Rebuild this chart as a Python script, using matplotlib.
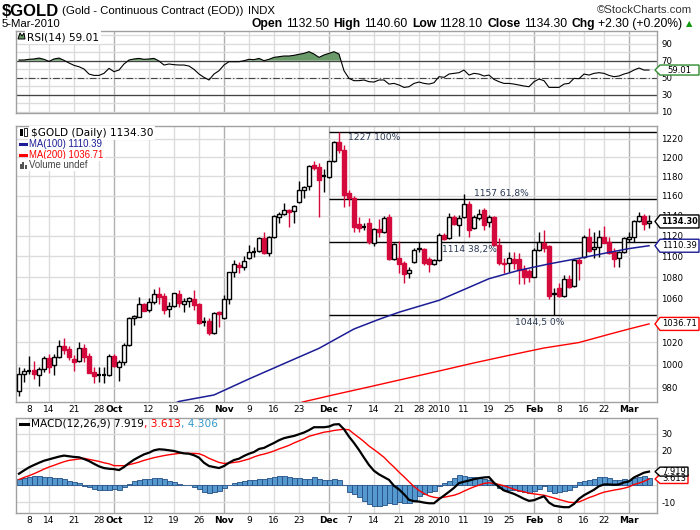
import matplotlib
matplotlib.use("Agg")
import matplotlib.pyplot as plt
from matplotlib.patches import Rectangle, Polygon
from matplotlib.lines import Line2D
from matplotlib import font_manager as fm
import numpy as np
import pandas as pd


# ---- Data ----
holidays = ["2009-09-07", "2009-12-25", "2010-01-01", "2010-01-18", "2010-02-15"]
dates = pd.bdate_range("2009-09-03", "2010-03-05", freq="C", holidays=holidays)

opens = [
    977.7, 991.8, 995.6, 995.4, 991.5, 996.2, 1006.4, 999.7, 1007.3, 1016.8,
    1014.1, 1005.3, 1003.2, 1014.7, 1008.2, 994.1, 991.5, 991.8, 991.3, 1007.9,
    998.5, 1002.9, 1017.4, 1041.8, 1043.3, 1055.0, 1049.5, 1056.9, 1064.3, 1062.7,
    1050.1, 1052.9, 1064.3, 1055.3, 1058.1, 1059.7, 1055.0, 1038.8, 1039.6, 1028.2,
    1047.6, 1041.8, 1059.4, 1084.7, 1091.8, 1090.2, 1098.2, 1104.9, 1105.6, 1118.3,
    1103.0, 1118.6, 1139.1, 1141.8, 1145.9, 1144.5, 1153.6, 1166.3, 1169.7, 1192.3,
    1189.8, 1181.4, 1179.3, 1195.8, 1215.9, 1208.2, 1162.8, 1157.7, 1131.8, 1129.5,
    1132.5, 1113.2, 1126.6, 1124.2, 1139.2, 1097.3, 1098.2, 1093.5, 1083.8, 1095.0,
    1108.5, 1107.3, 1097.5, 1092.8, 1096.6, 1120.9, 1117.6, 1139.2, 1130.8, 1138.6,
    1151.9, 1127.6, 1137.5, 1145.9, 1134.1, 1139.2, 1111.1, 1094.1, 1093.5, 1098.0,
    1097.5, 1087.6, 1086.0, 1080.6, 1106.3, 1113.4, 1110.0, 1065.0, 1070.2, 1062.4,
    1078.6, 1071.7, 1096.6, 1099.1, 1119.3, 1107.3, 1109.5, 1118.6, 1114.1, 1104.6,
    1098.2, 1104.6, 1116.7, 1118.6, 1134.3, 1139.8, 1132.5,
]
highs = [
    998.5, 997.6, 1007.9, 1003.5, 998.5, 1007.9, 1009.4, 1009.4, 1021.9, 1024.3,
    1017.1, 1008.5, 1020.1, 1018.9, 1010.3, 998.5, 998.5, 998.5, 1009.7, 1009.7,
    1004.4, 1019.2, 1042.8, 1044.9, 1061.8, 1056.2, 1060.3, 1068.8, 1070.6, 1064.9,
    1057.1, 1065.5, 1068.1, 1060.3, 1061.8, 1068.1, 1055.6, 1043.3, 1041.8, 1048.0,
    1048.6, 1063.4, 1085.4, 1096.6, 1095.0, 1100.5, 1111.1, 1109.5, 1118.6, 1123.9,
    1119.9, 1140.8, 1144.2, 1153.3, 1146.6, 1150.6, 1174.9, 1169.7, 1192.3, 1195.8,
    1194.0, 1188.0, 1196.5, 1217.1, 1227.0, 1213.5, 1166.0, 1160.0, 1139.2, 1133.1,
    1137.5, 1127.6, 1136.6, 1139.8, 1141.8, 1112.6, 1115.0, 1095.9, 1089.5, 1108.0,
    1114.1, 1108.0, 1099.1, 1097.3, 1122.6, 1122.6, 1142.5, 1140.8, 1140.8, 1162.1,
    1155.3, 1140.8, 1146.6, 1147.7, 1140.8, 1139.8, 1117.6, 1098.2, 1104.6, 1103.9,
    1102.9, 1091.8, 1088.0, 1108.0, 1124.2, 1125.9, 1111.1, 1069.6, 1074.3, 1082.2,
    1082.2, 1097.3, 1098.2, 1120.9, 1127.6, 1124.2, 1125.9, 1129.8, 1119.3, 1108.0,
    1105.6, 1119.3, 1124.2, 1135.7, 1144.2, 1141.5, 1140.6,
]
lows = [
    973.4, 985.4, 992.1, 987.5, 981.9, 994.1, 993.3, 991.3, 1006.4, 1009.7,
    1004.4, 995.0, 1002.4, 1002.9, 992.7, 984.6, 985.4, 984.6, 990.7, 998.0,
    986.3, 1000.0, 1016.6, 1035.7, 1042.8, 1048.3, 1047.4, 1055.0, 1055.0, 1045.8,
    1043.3, 1052.0, 1052.5, 1048.0, 1052.5, 1049.5, 1036.6, 1034.8, 1026.7, 1027.6,
    1034.2, 1041.2, 1054.7, 1080.6, 1083.8, 1087.0, 1097.2, 1099.8, 1104.6, 1102.4,
    1100.5, 1118.3, 1132.6, 1140.8, 1129.3, 1132.6, 1152.6, 1157.7, 1166.3, 1187.0,
    1138.4, 1164.0, 1178.3, 1195.1, 1204.8, 1148.5, 1150.0, 1124.0, 1124.2, 1125.9,
    1111.9, 1110.0, 1119.3, 1122.6, 1096.6, 1096.6, 1083.8, 1074.3, 1079.1, 1094.1,
    1104.6, 1091.8, 1085.4, 1091.8, 1095.9, 1116.0, 1116.7, 1130.8, 1119.9, 1137.5,
    1119.0, 1126.6, 1135.8, 1125.9, 1129.1, 1110.0, 1091.8, 1083.8, 1085.4, 1088.0,
    1073.6, 1073.6, 1076.0, 1080.0, 1105.6, 1104.6, 1059.4, 1044.5, 1061.8, 1061.8,
    1069.6, 1071.0, 1077.5, 1098.2, 1104.6, 1098.2, 1099.1, 1112.6, 1102.3, 1089.5,
    1089.5, 1103.6, 1114.1, 1114.1, 1133.3, 1125.9, 1128.1,
]
closes = [
    991.8, 994.5, 995.0, 992.1, 996.2, 1005.9, 998.0, 1007.0, 1016.6, 1013.3,
    1007.0, 1002.9, 1014.7, 1007.3, 993.3, 990.7, 991.0, 991.2, 1007.9, 999.1,
    1002.9, 1017.4, 1041.8, 1043.9, 1055.0, 1048.8, 1056.9, 1064.0, 1061.8, 1049.5,
    1052.9, 1064.9, 1055.6, 1058.1, 1060.3, 1054.1, 1037.8, 1038.5, 1028.2, 1047.0,
    1045.5, 1059.4, 1084.7, 1092.5, 1090.2, 1095.7, 1104.0, 1104.3, 1117.6, 1103.6,
    1119.3, 1139.8, 1141.8, 1145.6, 1144.2, 1150.3, 1166.0, 1169.1, 1191.2, 1188.8,
    1176.6, 1180.7, 1195.8, 1216.4, 1207.4, 1161.1, 1157.7, 1128.6, 1127.6, 1128.8,
    1114.1, 1126.6, 1124.2, 1137.5, 1097.3, 1111.9, 1092.8, 1083.2, 1087.0, 1106.3,
    1107.0, 1093.5, 1092.5, 1096.6, 1120.9, 1116.7, 1139.2, 1131.5, 1137.5, 1151.9,
    1125.9, 1138.6, 1141.8, 1130.8, 1139.2, 1111.1, 1093.5, 1092.8, 1098.2, 1094.0,
    1087.0, 1080.6, 1080.0, 1106.3, 1114.1, 1108.0, 1062.4, 1064.0, 1062.4, 1078.0,
    1071.0, 1096.6, 1093.5, 1119.3, 1105.6, 1109.5, 1118.6, 1113.2, 1102.9, 1097.3,
    1104.6, 1117.6, 1118.6, 1134.3, 1139.8, 1132.0, 1134.3,
]

# moving averages, read at a few bars (bar number counted from 3 Sep 2009)
ma100_bar = [31, 32, 39, 46, 53, 60, 67, 72, 76, 80, 84, 90, 94, 100, 106, 112, 118, 122, 126]
ma100_val = [966.5, 968.5, 974.0, 987.8, 1001.2, 1014.7, 1032.1, 1040.9, 1047.4, 1052.9,
             1058.4, 1070.5, 1078.7, 1086.7, 1092.8, 1098.2, 1103.9, 1107.6, 1110.39]
ma200_bar = [56, 57, 60, 63, 70, 77, 84, 91, 98, 105, 112, 118, 122, 126]
ma200_val = [967.0, 968.3, 971.2, 974.2, 980.9, 987.8, 994.7, 1001.8, 1008.5, 1015.0,
             1019.9, 1027.3, 1032.1, 1036.71]

rsi = [
    70.8, 70.8, 71.6, 72.0, 73.1, 71.6, 69.2, 72.0, 73.1, 70.4,
    67.3, 64.5, 62.9, 60.2, 54.3, 52.7, 52.7, 55.1, 61.0, 57.1,
    59.0, 66.1, 70.8, 72.0, 72.7, 71.6, 72.0, 72.7, 69.6, 64.9,
    66.1, 65.3, 64.9, 64.9, 63.7, 59.8, 54.3, 50.4, 47.3, 54.3,
    58.2, 64.9, 68.8, 68.8, 68.8, 70.0, 71.6, 71.2, 72.7, 70.0,
    71.6, 73.9, 74.7, 75.5, 75.5, 76.3, 77.5, 78.6, 80.6, 77.8,
    73.9, 76.7, 78.6, 80.6, 77.8, 58.2, 49.2, 46.5, 46.5, 47.3,
    45.3, 44.9, 47.3, 47.3, 42.5, 43.3, 41.4, 38.6, 39.4, 43.3,
    44.9, 43.3, 42.5, 44.1, 51.2, 50.4, 54.3, 55.1, 55.9, 59.0,
    53.1, 55.1, 54.3, 52.0, 53.1, 48.0, 45.3, 43.3, 43.3, 42.5,
    41.4, 40.2, 39.4, 45.3, 48.4, 46.5, 38.6, 38.6, 38.6, 42.5,
    43.3, 49.2, 48.8, 54.3, 53.1, 55.1, 55.9, 55.1, 52.7, 51.2,
    52.0, 54.3, 55.9, 59.0, 61.4, 59.0, 59.01,
]

macd = [
    6.7, 8.6, 10.4, 11.8, 13.1, 14.3, 15.1, 15.9, 16.7, 17.3,
    16.9, 16.5, 16.3, 15.3, 14.1, 12.5, 11.0, 10.0, 9.6, 9.4,
    8.8, 10.6, 12.9, 14.9, 16.5, 18.0, 19.0, 20.4, 21.0, 20.8,
    20.4, 20.0, 19.2, 18.6, 18.4, 17.5, 16.1, 13.1, 11.2, 10.6,
    10.0, 11.2, 13.1, 14.7, 15.5, 17.1, 18.4, 19.4, 21.2, 21.8,
    23.3, 24.7, 26.3, 27.5, 28.2, 28.8, 29.8, 30.8, 32.2, 33.9,
    33.9, 33.9, 34.3, 35.5, 35.7, 32.7, 28.4, 24.7, 20.6, 16.1,
    11.8, 8.4, 6.3, 4.7, 3.1, -0.4, -2.5, -5.3, -8.6, -9.4,
    -9.6, -10.2, -10.6, -10.6, -8.2, -6.1, -3.9, -1.6, 1.2, 2.0,
    2.7, 3.5, 4.1, 4.5, 4.7, 1.4, -1.0, -3.1, -4.1, -5.1,
    -6.5, -8.0, -9.2, -8.8, -7.6, -6.5, -10.2, -12.0, -12.5, -12.9,
    -12.9, -11.0, -8.0, -5.9, -4.3, -2.7, -0.6, 0.4, 0.4, 0.2,
    0.4, 1.6, 2.2, 4.5, 5.9, 7.3, 7.919,
]
signal = [
    3.3, 4.5, 5.5, 6.7, 8.0, 9.4, 10.6, 11.6, 12.7, 13.7,
    14.5, 14.9, 15.3, 15.7, 15.1, 14.5, 13.9, 13.1, 12.5, 11.4,
    11.4, 11.4, 12.0, 12.7, 13.5, 14.5, 15.3, 16.1, 16.7, 17.3,
    17.8, 18.2, 18.6, 18.6, 18.6, 18.6, 18.4, 17.3, 15.7, 14.5,
    13.3, 12.7, 12.9, 13.3, 13.7, 14.5, 15.3, 16.5, 17.5, 18.2,
    19.0, 20.0, 21.2, 22.2, 23.3, 24.7, 25.9, 27.1, 28.6, 29.4,
    30.2, 31.0, 31.4, 32.0, 32.4, 32.7, 32.4, 30.0, 27.8, 25.5,
    22.9, 20.8, 18.6, 16.3, 13.3, 10.6, 7.6, 4.9, 2.0, -0.8,
    -3.1, -4.9, -6.3, -7.1, -7.5, -7.1, -6.5, -5.9, -4.9, -3.5,
    -2.2, -1.0, 0.0, 1.0, 1.4, 1.0, 0.4, -0.4, -1.4, -2.4,
    -3.3, -3.9, -4.7, -5.1, -5.5, -5.9, -6.7, -7.5, -8.4, -9.2,
    -10.0, -10.2, -9.8, -8.6, -7.3, -6.3, -5.1, -4.1, -3.5, -2.9,
    -2.4, -1.8, -1.0, 0.4, 1.2, 2.2, 3.613,
]

fib_start = "2009-12-01"
fib_levels = [1227, 1157, 1114, 1044.5]
fib_labels = ["1227 100%", "1157 61,8%", "1114 38,2%", "1044,5 0%"]

tick_dates = ["2009-09-08", "2009-09-14", "2009-09-21", "2009-09-28", "2009-10-01",
              "2009-10-12", "2009-10-19", "2009-10-26", "2009-11-02", "2009-11-09",
              "2009-11-16", "2009-11-23", "2009-12-01", "2009-12-07", "2009-12-14",
              "2009-12-21", "2009-12-28", "2010-01-04", "2010-01-11", "2010-01-19",
              "2010-01-25", "2010-02-01", "2010-02-08", "2010-02-16", "2010-02-22",
              "2010-03-01"]
tick_labels = ["8", "14", "21", "28", "Oct", "12", "19", "26", "Nov", "9", "16", "23",
               "Dec", "7", "14", "21", "28", "2010", "11", "19", "25", "Feb", "8",
               "16", "22", "Mar"]

price_ticks = [980, 1000, 1020, 1040, 1060, 1080, 1100, 1120, 1140, 1160, 1180, 1200, 1220]
rsi_ticks = [10, 30, 50, 70, 90]
macd_ticks = [-10, 20, 30]          # 0 and 10 sit under the value tags
macd_grid = [-10, 0, 10, 20, 30]


# ---- Styles ----
RED = "#d40a3c"
NAVY = "#1c1c96"
GREEN = "#6a9a6a"
GRID = "#dcdcdc"
GRID_MONTH = "#b0b0b0"
SPINE = "#a0a0a0"

names = {f.name for f in fm.fontManager.ttflist}
NARROW = "Liberation Sans Narrow" if "Liberation Sans Narrow" in names else "Liberation Sans"
ARIAL = "Liberation Sans"

W, H = 700, 530
fig = plt.figure(figsize=(W / 100, H / 100), dpi=100)
fig.patch.set_facecolor("white")
L, R = 16, 657


def panel(top, bottom):
    return fig.add_axes([L / W, 1 - bottom / H, (R - L) / W, (bottom - top) / H])


ax_rsi = panel(31, 113)
ax_px = panel(126, 402)
ax_macd = panel(418, 513)

n = len(dates)
x = np.arange(n)
o = np.array(opens)
h = np.array(highs)
lo = np.array(lows)
c = np.array(closes)
tick_idx = dates.get_indexer(pd.to_datetime(tick_dates))
is_month = [not t.isdigit() for t in tick_labels]

for ax in (ax_rsi, ax_px, ax_macd):
    ax.set_xlim(-0.6, n + 0.6)
    ax.set_facecolor("white")
    for s in ax.spines.values():
        s.set_color(SPINE)
        s.set_linewidth(1)
    for t, m in zip(tick_idx, is_month):
        ax.axvline(t, color=GRID_MONTH if m else GRID, lw=1, zorder=0.5)
    ax.yaxis.tick_right()
    ax.tick_params(axis="y", length=0, pad=3, labelsize=6.2)
    ax.tick_params(axis="x", length=0, pad=2.5, labelsize=6.5)

# ---- RSI panel ----
ax_rsi.set_ylim(8.5, 104.9)
for v in range(10, 101, 10):
    ax_rsi.axhline(v, color=GRID, lw=1, zorder=0.5)
ax_rsi.axhline(70, color="#444444", lw=0.9, zorder=1)
ax_rsi.axhline(30, color="#444444", lw=0.9, zorder=1)
ax_rsi.axhline(50, color="#444444", lw=0.8, ls=(0, (6, 2, 1, 2)), zorder=1)
r = np.array(rsi)
ax_rsi.fill_between(x, r, 70, where=r >= 70, interpolate=True, color=GREEN, lw=0, zorder=2)
ax_rsi.plot(x, r, color="black", lw=0.8, zorder=3)
ax_rsi.set_yticks(rsi_ticks)
ax_rsi.set_yticklabels([str(v) for v in rsi_ticks])
ax_rsi.set_xticks([])

# ---- Price panel ----
ax_px.set_yscale("log")
ax_px.set_ylim(968.0, 1233.5)
ax_px.yaxis.set_minor_locator(matplotlib.ticker.NullLocator())
for v in price_ticks:
    ax_px.axhline(v, color=GRID, lw=1, zorder=0.5)
ax_px.set_yticks(price_ticks)
ax_px.set_yticklabels([str(v) for v in price_ticks])

fib_x0 = dates.get_loc(pd.Timestamp(fib_start))
ax_px.hlines(fib_levels, fib_x0, n + 0.6, color="black", lw=1, zorder=1.5)
fib_pos = [(65.8, "top", -1), (91.0, "bottom", 1), (84.6, "top", -2), (99.2, "top", -2)]
for lev, lab, (fx, va, dy) in zip(fib_levels, fib_labels, fib_pos):
    ax_px.annotate(lab, (fx, lev), xytext=(0, dy), textcoords="offset points",
                   va=va, ha="left", fontsize=6.6, color="#2b3a55", zorder=6)

prev = np.r_[o[0], c[:-1]]
bw = 0.8
for i in range(n):
    col = RED if c[i] < prev[i] else "black"
    ax_px.vlines(x[i], lo[i], h[i], color=col, lw=1, zorder=3)
    b0, b1 = min(o[i], c[i]), max(o[i], c[i])
    if b1 - b0 < 0.8:
        ax_px.hlines(c[i], x[i] - bw / 2, x[i] + bw / 2, color=col, lw=1.6, zorder=3.5)
    else:
        ax_px.add_patch(Rectangle((x[i] - bw / 2, b0), bw, b1 - b0,
                                  facecolor=col if c[i] < o[i] else "white",
                                  edgecolor=col, lw=1, zorder=3.5))

ax_px.plot(ma100_bar, ma100_val, color=NAVY, lw=1.1, zorder=4)
ax_px.plot(ma200_bar, ma200_val, color="#ff0000", lw=1.0, zorder=4)

ax_px.set_xticks(tick_idx)
ax_px.set_xticklabels(tick_labels)

# ---- MACD panel ----
ax_macd.set_ylim(-16.3, 39.3)
for v in macd_grid:
    ax_macd.axhline(v, color=GRID, lw=1, zorder=0.5)
hist = np.array(macd) - np.array(signal)
ax_macd.bar(x, hist, width=1.0, color="#5599cf", edgecolor="#244f86", lw=0.6, zorder=2)
ax_macd.plot(x, signal, color="#ff0000", lw=1.0, zorder=3)
ax_macd.plot(x, macd, color="black", lw=1.6, zorder=4)
ax_macd.set_yticks(macd_ticks)
ax_macd.set_yticklabels([str(v) for v in macd_ticks])
ax_macd.set_xticks(tick_idx)
ax_macd.set_xticklabels(tick_labels)

for ax in (ax_px, ax_macd):
    for lab, m in zip(ax.get_xticklabels(), is_month):
        if m:
            lab.set_fontweight("bold")


# ---- Helpers in figure pixels (origin top left) ----
renderer = fig.canvas.get_renderer()


def ftext(px, py, s, **kw):
    kw.setdefault("va", "center")
    return fig.text(px / W, 1 - py / H, s, **kw)


def fline(x0, x1, y0, y1, **kw):
    fig.add_artist(Line2D([x0 / W, x1 / W], [1 - y0 / H, 1 - y1 / H],
                          transform=fig.transFigure, **kw))


def frect(px, py, w, hh, **kw):
    fig.add_artist(Rectangle((px / W, 1 - (py + hh) / H), w / W, hh / H,
                             transform=fig.transFigure, **kw))


def rich(px, py, parts, ha="left"):
    objs = []
    cur = 0.0
    for s, kw, gap in parts:
        t = ftext(0, py, s, ha="left", **kw)
        objs.append((t, cur))
        cur += t.get_window_extent(renderer).width + gap
    total = cur - parts[-1][2]
    start = px if ha == "left" else px - total
    for t, off in objs:
        t.set_x((start + off) / W)


def tag(ax, val, label, ec, bold=False, hh=6.5, right=699, fs=6.0):
    yd = ax.transData.transform((0, val))[1]
    xr = ax.transAxes.transform((1, 0))[0]
    pts = [(xr - 2, yd), (xr + 3, yd + hh), (right, yd + hh), (right, yd - hh), (xr + 3, yd - hh)]
    fig.add_artist(Polygon([(a / W, b / H) for a, b in pts], closed=True,
                           transform=fig.transFigure, facecolor="white",
                           edgecolor=ec, lw=1, zorder=5))
    fig.text((xr + 3 + right) / 2 / W, yd / H, label, ha="center", va="center",
             fontsize=fs, fontweight="bold" if bold else "normal", color="black", zorder=6)


# ---- Value tags on the right ----
tag(ax_px, closes[-1], "%.2f" % closes[-1], "black", bold=True, fs=5.9)
tag(ax_px, ma100_val[-1], "%.2f" % ma100_val[-1], NAVY, fs=6.1)
tag(ax_px, ma200_val[-1], "%.2f" % ma200_val[-1], "#ff0000", fs=6.1)
tag(ax_rsi, rsi[-1], "%.2f" % rsi[-1], "#2e8b2e", hh=5, fs=6.1)
tag(ax_macd, signal[-1], "%.3f" % signal[-1], "#ff0000", hh=4.5, right=688, fs=6.0)
tag(ax_macd, macd[-1], "%.3f" % macd[-1], "black", hh=4.5, right=688, fs=6.0)

# ---- Header ----
rich(2, 11, [("$GOLD", dict(fontsize=12, fontweight="bold", family=NARROW), 3),
             ("(Gold - Continuous Contract (EOD))", dict(fontsize=8.2, family=NARROW), 4),
             ("INDX", dict(fontsize=8.2, family=NARROW), 0)])
rich(692, 10, [("\u00a9StockCharts.com", dict(fontsize=8.2, family=NARROW, color="#333333"), 0)],
     ha="right")
ftext(2, 24, "5-Mar-2010", fontsize=8.2, family=NARROW)
b = dict(fontsize=8.7, fontweight="bold", family=NARROW)
nb = dict(fontsize=8.7, family=NARROW)
rich(692, 24, [("Open", b, 3), ("1132.50", nb, 5), ("High", b, 3), ("1140.60", nb, 5),
               ("Low", b, 3), ("1128.10", nb, 5), ("Close", b, 3), ("1134.30", nb, 5),
               ("Chg", b, 3), ("+2.30 (+0.20%)", nb, 3),
               ("\u25b2", dict(fontsize=6, color="#109a10", family=["DejaVu Sans"]), 0)],
     ha="right")

# ---- Panel legends ----
box = dict(boxstyle="square,pad=0.15", fc="white", ec="none")
# RSI
fig.add_artist(Polygon([(18 / W, 1 - 39 / H), (20 / W, 1 - 33 / H), (22 / W, 1 - 36 / H),
                        (24 / W, 1 - 33 / H), (25 / W, 1 - 39 / H)], closed=True,
                       transform=fig.transFigure, fc=GREEN, ec="black", lw=0.7, zorder=6))
ftext(27, 37, "RSI(14) %.2f" % rsi[-1], fontsize=7.6, bbox=box, zorder=5)

# price
frect(20, 129, 2.5, 7, fc="black", ec="none", zorder=6)
frect(24, 128, 2.5, 8, fc="white", ec="black", lw=0.6, zorder=6)
ftext(31, 133, "$GOLD (Daily) %.2f" % closes[-1], fontsize=7.6, bbox=box, zorder=5)
fline(19.5, 28, 144, 144, color=NAVY, lw=2.2)
ftext(29, 144, "MA(100) %.2f" % ma100_val[-1], fontsize=6.9, family=ARIAL, color=NAVY,
      bbox=box, zorder=5)
fline(19.5, 28, 155, 155, color="#ff0000", lw=2.2)
ftext(29, 155, "MA(200) %.2f" % ma200_val[-1], fontsize=6.9, family=ARIAL, color="#ff0000",
      bbox=box, zorder=5)
for k, hh in enumerate((5, 7, 4)):
    frect(19.5 + k * 2.8, 169 - hh, 2.2, hh, fc="#555555", ec="none", zorder=6)
ftext(29, 165, "Volume undef", fontsize=6.9, family=ARIAL, color="#444444", bbox=box, zorder=5)

# MACD
fline(19.5, 28, 424, 424, color="black", lw=2.2)
rich(31, 424, [("MACD(12,26,9) %.3f" % macd[-1], dict(fontsize=7.6, zorder=5), 0),
               (", %.3f" % signal[-1], dict(fontsize=7.6, color="#ff0000", zorder=5), 0),
               (", %.3f" % (macd[-1] - signal[-1]), dict(fontsize=7.6, color="#3399cc", zorder=5), 0)])

fig.savefig("out.png", dpi=100, facecolor="white")
